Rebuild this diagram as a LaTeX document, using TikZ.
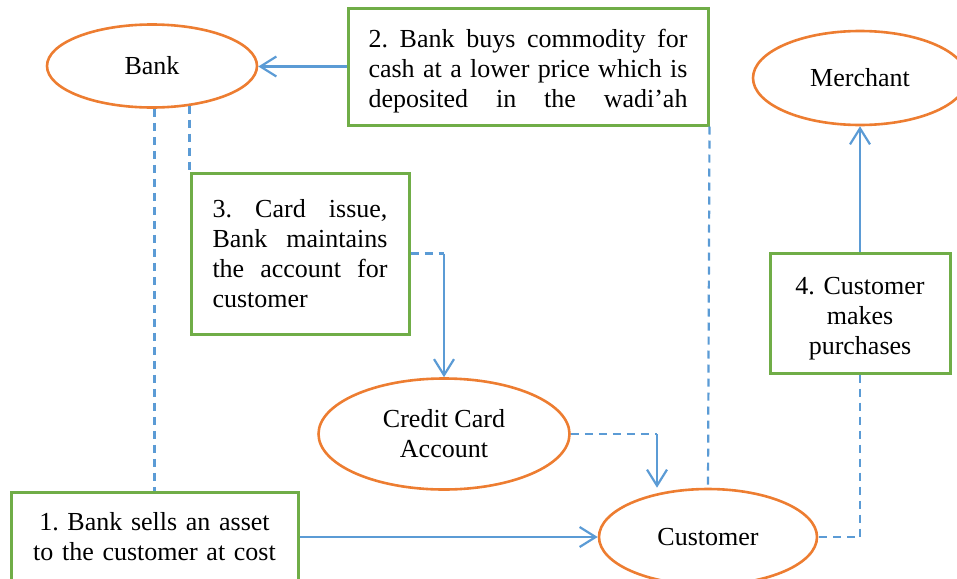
\documentclass[tikz,border=0pt]{standalone}
\usepackage{fontspec}
\setmainfont{Liberation Serif}
\usepackage{tikz}
\usetikzlibrary{arrows.meta,positioning,shapes.geometric}
\definecolor{party}{HTML}{ED7D31}
\definecolor{stepcol}{HTML}{70AD47}
\definecolor{flow}{HTML}{5B9BD5}
\frenchspacing

\begin{document}
\begin{tikzpicture}[x=0.5pt, y=-0.5pt,
  every node/.style={font=\fontsize{13}{15}\selectfont},
  party/.style={ellipse, draw=party, line width=1.3pt, inner sep=0pt},
  stepbox/.style={rectangle, draw=stepcol, line width=1.5pt, inner sep=0pt, fill=white},
  arrowline/.style={draw=flow, line width=1.1pt, -{Straight Barb[length=8pt,width=10pt]}},
  dashline/.style={draw=flow, line width=1.1pt, dash pattern=on 4pt off 3pt}]
\useasboundingbox (0,0) rectangle (957,578);
% parties
\node[party, minimum width=105pt, minimum height=41.5pt] (bank) at (152,66) {Bank};
\node[party, minimum width=107pt, minimum height=47pt] (merchant) at (860,78) {Merchant};
\node[party, minimum width=125.5pt, minimum height=55.5pt, align=center] (cca) at (444,434) {Credit Card\\Account};
\node[party, minimum width=109pt, minimum height=48pt] (customer) at (708,537) {Customer};
% steps
\node[stepbox, minimum width=143.5pt, minimum height=45pt, text width=135pt, align=center] (box1) at (154.5,537)
  {1. Bank sells an asset\\to the customer at cost};
\node[stepbox, minimum width=180pt, minimum height=58.5pt, text width=159.5pt, align=justify] (box2) at (528,66.5)
  {\parfillskip=0pt\rule{0pt}{14pt}2. Bank buys commodity for\linebreak cash at a lower price which is\linebreak deposited in the wadi’ah\par};
\node[stepbox, minimum width=109pt, minimum height=80.5pt, text width=87.5pt, align=justify] (box3) at (300,253.5)
  {3. Card issue,\linebreak Bank maintains\linebreak the account for\linebreak customer};
\node[stepbox, minimum width=90pt, minimum height=60pt, text width=80pt, align=center] (box4) at (860,313)
  {\rule{0pt}{14pt}4. Customer\\makes\\purchases};
% turning points
\coordinate (cardturn) at (box3.east -| cca.north);
\coordinate (ccaturn) at (657,434);
\coordinate (buyturn) at (box4.south |- customer.east);
% connectors
\draw[arrowline] (box2.west) -- (box2.west -| bank.east);
\draw[dashline] (bank.south -| box1.north) -- (box1.north);
\draw[dashline] (box3.north west |- bank.-45) -- (box3.north west);
\draw[dashline] (box3.east) -- (cardturn);
\draw[arrowline] (cardturn) -- (cca.north);
\draw[dashline] (cca.east) -- (ccaturn);
\draw[arrowline] (ccaturn) -- (ccaturn |- customer.north);
\draw[dashline] (box2.south east) -- (customer.north);
\draw[arrowline] (customer.west -| box1.east) -- (customer.west);
\draw[arrowline] (box4.north) -- (merchant.south);
\draw[dashline] (box4.south) -- (buyturn) -- (customer.east);
\end{tikzpicture}
\end{document}
